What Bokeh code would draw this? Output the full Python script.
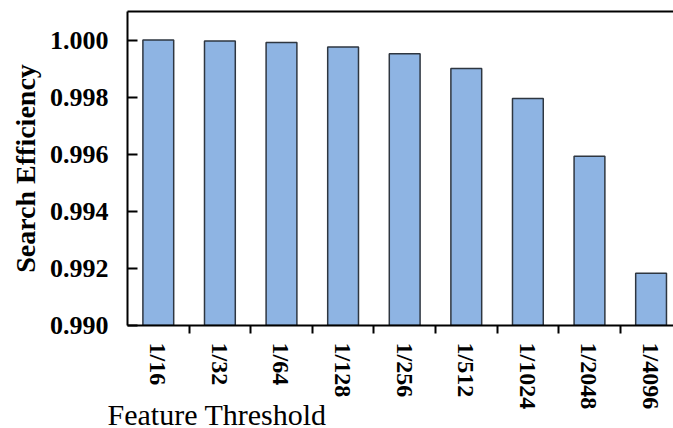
import math
from bokeh.plotting import figure
from bokeh.models import Range1d, FixedTicker, LinearAxis, Title, NumeralTickFormatter
from bokeh.embed import file_html
from bokeh.resources import INLINE

labels = ["1/16", "1/32", "1/64", "1/128", "1/256", "1/512", "1/1024", "1/2048", "1/4096"]
efficiency = [1.00000, 0.99997, 0.99991, 0.99976, 0.99952, 0.99900, 0.99795, 0.99593, 0.99183]
y_ticks = [0.990, 0.992, 0.994, 0.996, 0.998, 1.000]
y_min, y_max = 0.990, 1.001
positions = list(range(len(labels)))

p = figure(width=673, height=428, output_backend="svg", toolbar_location=None,
           x_range=Range1d(-0.5, 8.364), y_range=Range1d(y_min, y_max),
           min_border_left=127, min_border_right=0, min_border_top=11,
           min_border_bottom=103)
p.outline_line_color = None
p.xgrid.visible = False
p.ygrid.visible = False
p.background_fill_color = "white"
p.border_fill_color = "white"

p.vbar(x=positions, top=efficiency, bottom=y_min, width=0.5,
       fill_color="#8EB4E3", line_color="#2E3640", line_width=1.5)

xa = p.xaxis[0]
xa.ticker = FixedTicker(ticks=positions, minor_ticks=[i + 0.5 for i in positions[:-1]])
xa.major_label_overrides = {i: l for i, l in zip(positions, labels)}
xa.major_label_orientation = -math.pi / 2
xa.major_tick_in = 0
xa.major_tick_out = 0
xa.minor_tick_in = 0
xa.minor_tick_out = 8
xa.minor_tick_line_width = 2
xa.minor_tick_line_color = "black"
xa.axis_line_width = 2
xa.axis_line_color = "black"
xa.major_label_standoff = 9
xa.major_label_text_font = "Liberation Serif"
xa.major_label_text_font_style = "bold"
xa.major_label_text_font_size = "24px"
xa.major_label_text_color = "black"

ya = p.yaxis[0]
ya.ticker = FixedTicker(ticks=y_ticks, minor_ticks=[])
ya.formatter = NumeralTickFormatter(format="0.000")
ya.major_tick_in = 10
ya.major_tick_out = 0
ya.major_tick_line_width = 2
ya.major_tick_line_color = "black"
ya.minor_tick_in = 0
ya.minor_tick_out = 0
ya.axis_line_width = 2
ya.axis_line_color = "black"
ya.major_label_standoff = 19
ya.major_label_text_font = "Liberation Serif"
ya.major_label_text_font_style = "bold"
ya.major_label_text_font_size = "26px"
ya.major_label_text_color = "black"
ya.axis_label = "Search Efficiency"
ya.axis_label_text_font = "Liberation Serif"
ya.axis_label_text_font_style = "bold"
ya.axis_label_text_font_size = "28px"
ya.axis_label_text_color = "black"
ya.axis_label_standoff = 6

top = LinearAxis(ticker=FixedTicker(ticks=[], minor_ticks=[]),
                 major_label_text_font_size="0px", major_tick_in=0, major_tick_out=0,
                 minor_tick_in=0, minor_tick_out=0, major_label_standoff=0,
                 axis_line_width=2, axis_line_color="black")
p.add_layout(top, "above")

p.add_layout(Title(text="Feature Threshold", text_font="Liberation Serif",
                   text_font_size="30px", text_font_style="normal", text_color="black",
                   align="left", offset=-20, standoff=-34), "below")

open("out.html", "w").write(file_html(p, INLINE))
